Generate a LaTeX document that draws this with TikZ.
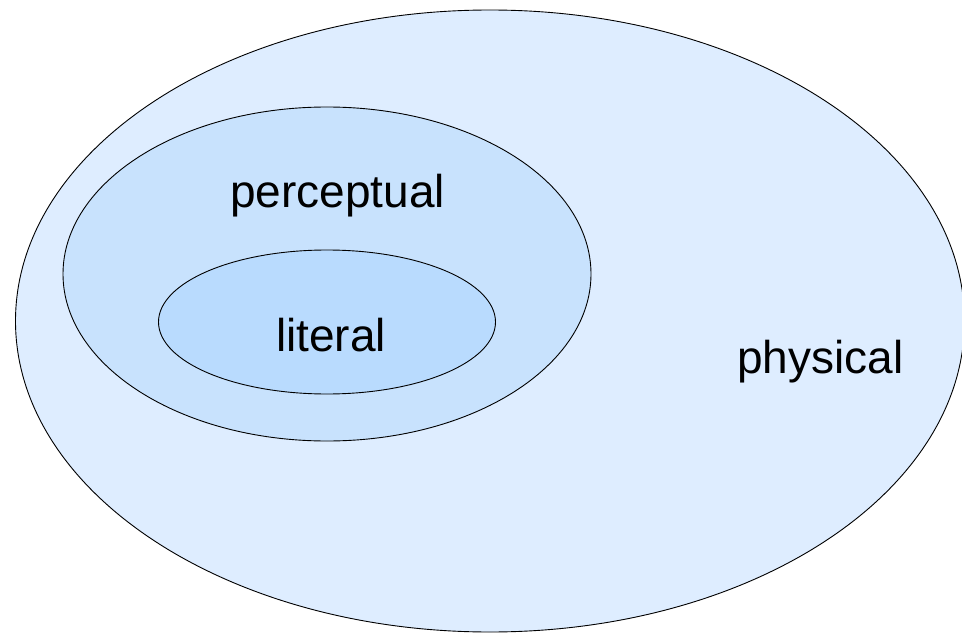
\documentclass[tikz,border=0pt]{standalone}
\usepackage{fontspec}
\setmainfont{Liberation Sans}
\definecolor{outerfill}{RGB}{222,237,255}
\definecolor{midfill}{RGB}{200,226,253}
\definecolor{innerfill}{RGB}{185,219,254}
\begin{document}
\begin{tikzpicture}[x=1pt,y=-1pt,
  setshape/.style={draw=black,line width=0.9pt},
  setlabel/.style={anchor=base,inner sep=0pt,font=\fontsize{46}{55}\selectfont}]
\useasboundingbox (0,0) rectangle (962,634);
\clip (0,0) rectangle (962,634);
\fill[white] (0,0) rectangle (962,634);
\draw[setshape,fill=outerfill] (490,321) ellipse [x radius=474.5, y radius=311];
\draw[setshape,fill=midfill] (327,274) ellipse [x radius=264, y radius=167];
\draw[setshape,fill=innerfill] (327,322) ellipse [x radius=168.5, y radius=72];
\node[setlabel] (perceptual) at (337.5,207) {perceptual};
\node[setlabel] (literal) at (331,351) {literal};
\node[setlabel] (physical) at (820.5,373) {physical};
\end{tikzpicture}
\end{document}
